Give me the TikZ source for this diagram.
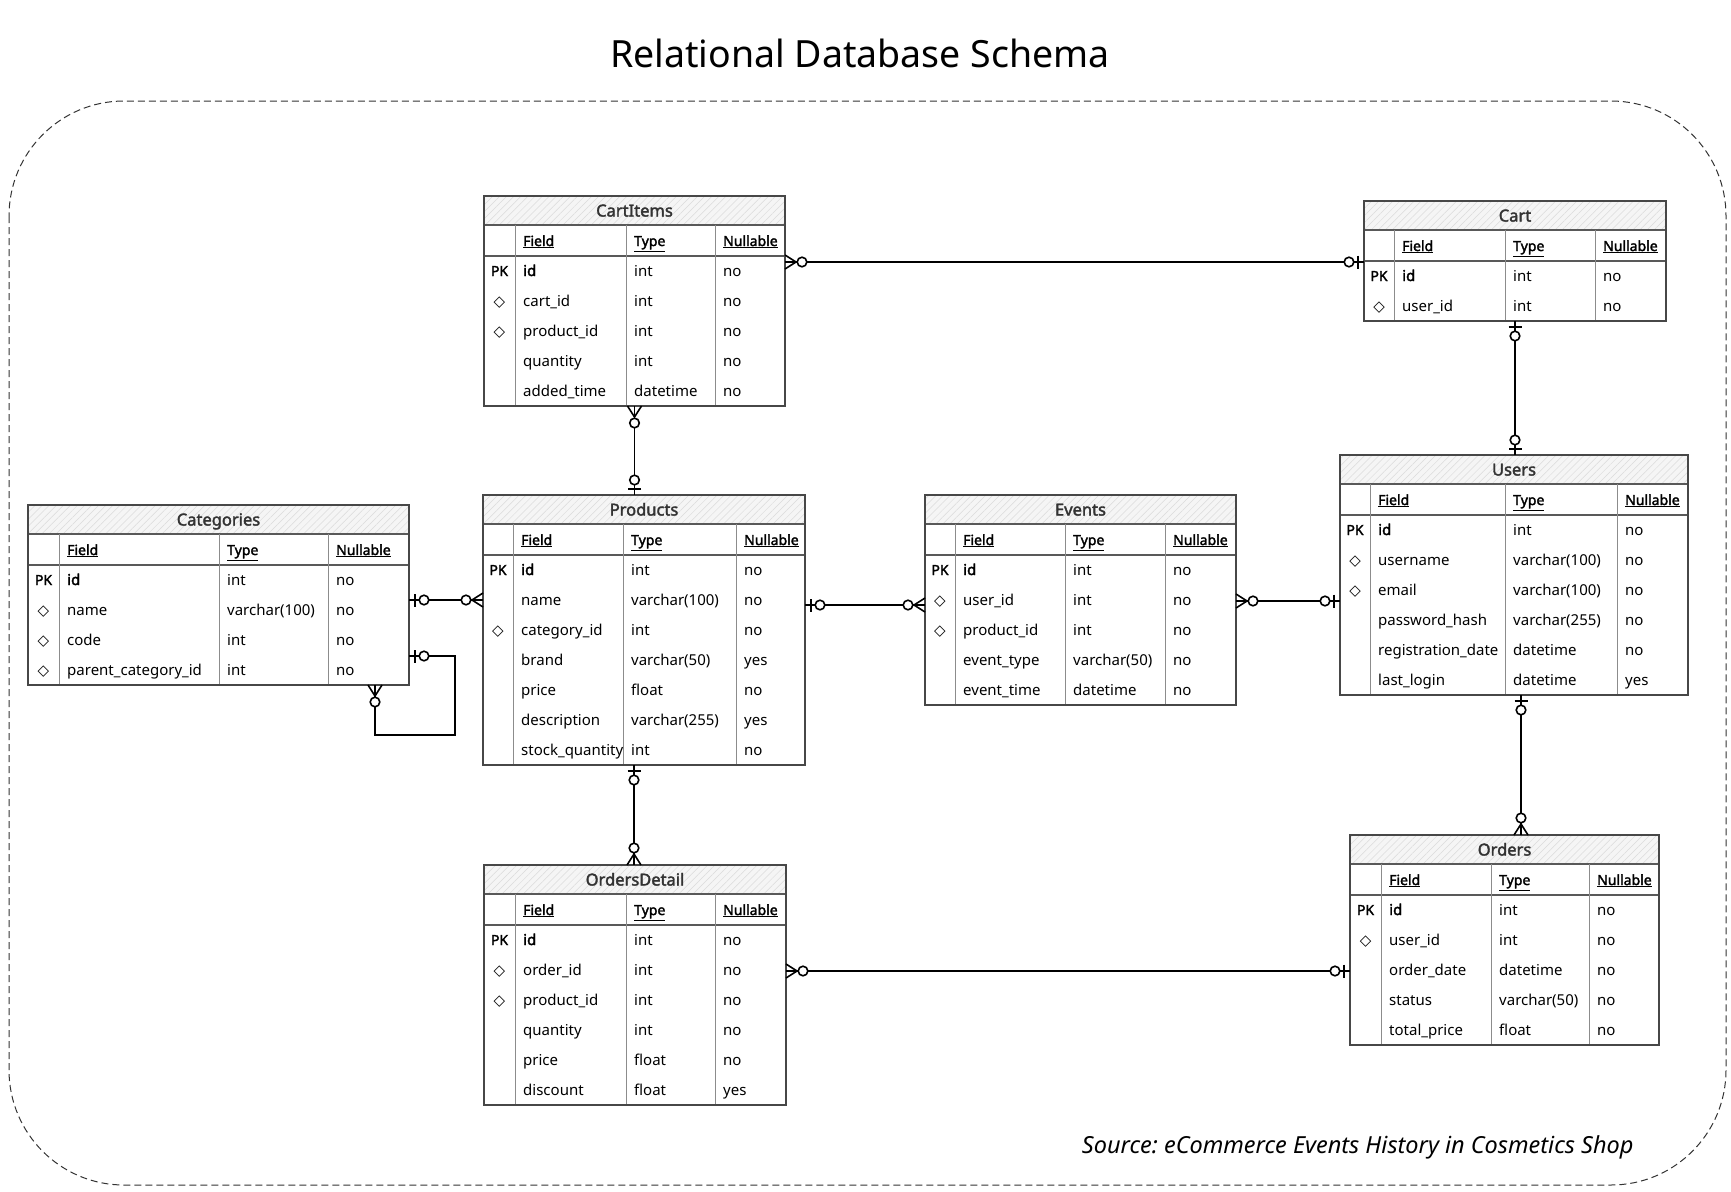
\documentclass[tikz,border=0pt]{standalone}
\usepackage{fontspec}
\setmainfont{Noto Sans}[AutoFakeBold=2.2]
\newfontfamily\djv{DejaVu Sans}
\usetikzlibrary{calc,patterns.meta}
\frenchspacing

\tikzset{
  x=1pt, y=1pt,
  tblframe/.style={draw=black!72, line width=1.2pt},
  hrule/.style={draw=black!65, line width=1.1pt},
  divider/.style={draw=black!45, line width=0.9pt},
  titlebar/.style={preaction={fill=black!4}, pattern={Lines[angle=45,distance=5pt,line width=0.5pt]}, pattern color=black!14},
  ttl/.style={font=\fontsize{16.5}{20}\selectfont\bfseries, text=black!80, inner sep=0pt, anchor=base},
  hdr/.style={font=\fontsize{14}{17}\selectfont\bfseries, inner sep=0pt, anchor=base west},
  celltxt/.style={font=\fontsize{15}{18}\selectfont, inner sep=0pt, anchor=base west},
  pkcell/.style={font=\fontsize{14}{17}\selectfont\bfseries, inner sep=0pt, anchor=base},
  conn/.style={draw=black, line width=1.6pt},
  zone/.pic={\draw[conn] (6,-6.5) -- (6,6.5); \draw[conn, fill=white] (15,0) circle (4.8);},
  zmany/.pic={\draw[conn] (0,-7) -- (11,0) -- (0,7); \draw[conn, fill=white] (17,0) circle (4.8);},
}

\newcommand\fkd{{\djv\mdseries\fontsize{15}{17}\selectfont ◇}}
\newcommand\setcols[4]{\def\wA{#1}\def\wB{#2}\def\wC{#3}\def\wD{#4}}
\newcommand\ertable[6]{%
  \pgfmathsetmacro\tw{\wA+\wB+\wC+\wD}%
  \pgfmathsetmacro\thh{60+30*#5}%
  \path[titlebar] (#2,-#3) rectangle (#2+\tw,-#3-29);
  \draw[hrule] (#2,-#3-29) -- (#2+\tw,-#3-29);
  \draw[hrule] (#2,-#3-60) -- (#2+\tw,-#3-60);
  \draw[divider] (#2+\wA,-#3-29) -- (#2+\wA,-#3-\thh);
  \draw[divider] (#2+\wA+\wB,-#3-29) -- (#2+\wA+\wB,-#3-\thh);
  \draw[divider] (#2+\wA+\wB+\wC,-#3-29) -- (#2+\wA+\wB+\wC,-#3-\thh);
  \node[tblframe, anchor=north west, minimum width=\tw pt, minimum height=\thh pt, inner sep=0pt, outer sep=0pt] (#1) at (#2,-#3) {};
  \node[ttl] (#1-title) at (#2+\tw/2,-#3-20.5) {#4};
  \node[hdr] (#1-hf) at (#2+\wA+8,-#3-50) {\underline{Field}};
  \node[hdr] (#1-ht) at (#2+\wA+\wB+8,-#3-50) {\underline{Type}};
  \node[hdr] (#1-hn) at (#2+\wA+\wB+\wC+8,-#3-50) {\underline{Nullable}};
  \foreach \pa/\pb/\pc/\pd [count=\i] in {#6} {
    \node[pkcell] (#1-\i-k) at (#2+\wA/2,-#3-60-30*\i+10) {\pa};
    \node[celltxt] (#1-\i-f) at (#2+\wA+8,-#3-60-30*\i+10) {\pb};
    \node[celltxt] (#1-\i-t) at (#2+\wA+\wB+8,-#3-60-30*\i+10) {\pc};
    \node[celltxt] (#1-\i-n) at (#2+\wA+\wB+\wC+8,-#3-60-30*\i+10) {\pd};
  }
}

\begin{document}
\begin{tikzpicture}
\useasboundingbox (0,0) rectangle (1731,-1191);

\node[font=\fontsize{37.5}{45}\selectfont, anchor=base] (title) at (860,-67) {Relational Database Schema};
\draw[dashed, dash pattern=on 7pt off 4pt, line width=1pt, draw=black!80, rounded corners=115pt] (9,-101) rectangle (1726,-1185);
\node[font=\fontsize{23.5}{28}\selectfont\itshape, anchor=base east] (src) at (1637,-1153) {Source: eCommerce Events History in Cosmetics Shop};

\setcols{31}{111}{89}{70}
\ertable{ci}{484}{196}{CartItems}{5}{PK/\textbf{id}/int/no, \fkd/cart\_id/int/no, \fkd/product\_id/int/no, /quantity/int/no, /added\_time/datetime/no}

\setcols{30}{111}{90}{71}
\ertable{cart}{1364}{201}{Cart}{2}{PK/\textbf{id}/int/no, \fkd/user\_id/int/no}

\setcols{31}{160}{109}{81}
\ertable{cat}{28}{505}{Categories}{4}{PK/\textbf{id}/int/no, \fkd/name/varchar(100)/no, \fkd/code/int/no, \fkd/parent\_category\_id/int/no}

\setcols{30}{110}{113}{69}
\ertable{prod}{483}{495}{Products}{7}{PK/\textbf{id}/int/no, /name/varchar(100)/no, \fkd/category\_id/int/no, /brand/varchar(50)/yes, /price/float/no, /description/varchar(255)/yes, /stock\_quantity/int/no}

\setcols{30}{110}{100}{71}
\ertable{ev}{925}{495}{Events}{5}{PK/\textbf{id}/int/no, \fkd/user\_id/int/no, \fkd/product\_id/int/no, /event\_type/varchar(50)/no, /event\_time/datetime/no}

\setcols{30}{135}{112}{71}
\ertable{usr}{1340}{455}{Users}{6}{PK/\textbf{id}/int/no, \fkd/username/varchar(100)/no, \fkd/email/varchar(100)/no, /password\_hash/varchar(255)/no, /registration\_date/datetime/no, /last\_login/datetime/yes}

\setcols{31}{111}{89}{71}
\ertable{od}{484}{865}{OrdersDetail}{6}{PK/\textbf{id}/int/no, \fkd/order\_id/int/no, \fkd/product\_id/int/no, /quantity/int/no, /price/float/no, /discount/float/yes}

\setcols{31}{110}{98}{70}
\ertable{ord}{1350}{835}{Orders}{5}{PK/\textbf{id}/int/no, \fkd/user\_id/int/no, /order\_date/datetime/no, /status/varchar(50)/no, /total\_price/float/no}

% 1 CartItems - Cart
\coordinate (k1a) at ($(ci.north east)+(0,-66)$);
\coordinate (k1b) at (k1a -| cart.west);
\draw[conn] (k1a) -- (k1b);
\path (k1a) pic{zmany} (k1b) pic[rotate=180]{zone};

% 2 CartItems - Products
\coordinate (k2a) at (ci.south);
\coordinate (k2b) at (k2a |- prod.north);
\draw[conn] (k2a) -- (k2b);
\path (k2a) pic[rotate=-90]{zmany} (k2b) pic[rotate=90]{zone};

% 3 Cart - Users
\coordinate (k3a) at (cart.south);
\coordinate (k3b) at (k3a |- usr.north);
\draw[conn] (k3a) -- (k3b);
\path (k3a) pic[rotate=-90]{zone} (k3b) pic[rotate=90]{zone};

% 4 Categories - Products
\coordinate (k4a) at ($(cat.north east)+(0,-95)$);
\coordinate (k4b) at (k4a -| prod.west);
\draw[conn] (k4a) -- (k4b);
\path (k4a) pic{zone} (k4b) pic[rotate=180]{zmany};

% 5 Categories self reference
\coordinate (k5a) at ($(cat.north east)+(0,-151)$);
\coordinate (k5b) at ($(cat.south west)+(347,0)$);
\draw[conn] (k5a) -- ++(46,0) -- ++(0,-79) -| (k5b);
\path (k5a) pic{zone} (k5b) pic[rotate=-90]{zmany};

% 6 Products - Events
\coordinate (k6a) at ($(prod.north east)+(0,-110)$);
\coordinate (k6b) at (k6a -| ev.west);
\draw[conn] (k6a) -- (k6b);
\path (k6a) pic{zone} (k6b) pic[rotate=180]{zmany};

% 7 Events - Users
\coordinate (k7a) at ($(ev.north east)+(0,-106)$);
\coordinate (k7b) at (k7a -| usr.west);
\draw[conn] (k7a) -- (k7b);
\path (k7a) pic{zmany} (k7b) pic[rotate=180]{zone};

% 8 Products - OrdersDetail
\coordinate (k8a) at ($(prod.south west)+(151,0)$);
\coordinate (k8b) at (k8a |- od.north);
\draw[conn] (k8a) -- (k8b);
\path (k8a) pic[rotate=-90]{zone} (k8b) pic[rotate=90]{zmany};

% 9 Users - Orders
\coordinate (k9a) at ($(usr.south west)+(181,0)$);
\coordinate (k9b) at (k9a |- ord.north);
\draw[conn] (k9a) -- (k9b);
\path (k9a) pic[rotate=-90]{zone} (k9b) pic[rotate=90]{zmany};

% 10 OrdersDetail - Orders
\coordinate (k10a) at ($(od.north east)+(0,-106)$);
\coordinate (k10b) at (k10a -| ord.west);
\draw[conn] (k10a) -- (k10b);
\path (k10a) pic{zmany} (k10b) pic[rotate=180]{zone};
\end{tikzpicture}
\end{document}
